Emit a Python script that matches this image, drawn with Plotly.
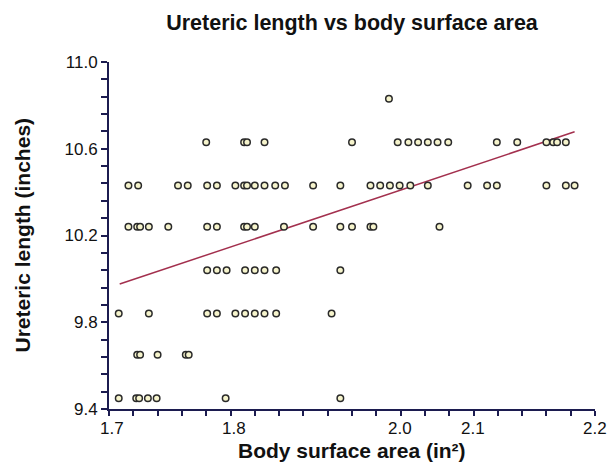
import plotly.graph_objects as go

# ---- data ----
# ureteric length levels (inches) and the body surface areas of the points at each level
length_levels = [10.83, 10.63, 10.43, 10.24, 10.04, 9.84, 9.65, 9.45]
bsa_at_10_83 = [1.988]
bsa_at_10_63 = [1.800, 1.839, 1.842, 1.860, 1.950, 1.997, 2.008, 2.018, 2.028, 2.038,
                2.049, 2.099, 2.120, 2.150, 2.157, 2.161, 2.170]
bsa_at_10_43 = [1.720, 1.730, 1.771, 1.781, 1.801, 1.811, 1.830, 1.839, 1.842, 1.850,
                1.860, 1.871, 1.881, 1.910, 1.938, 1.969, 1.979, 1.989, 1.999, 2.010,
                2.028, 2.069, 2.089, 2.099, 2.150, 2.170, 2.179]
bsa_at_10_24 = [1.720, 1.729, 1.732, 1.741, 1.761, 1.801, 1.811, 1.839, 1.842, 1.850,
                1.880, 1.910, 1.938, 1.950, 1.969, 1.972, 2.040]
bsa_at_10_04 = [1.801, 1.811, 1.821, 1.840, 1.850, 1.860, 1.872, 1.938]
bsa_at_9_84 = [1.710, 1.741, 1.801, 1.811, 1.830, 1.840, 1.850, 1.860, 1.872, 1.929]
bsa_at_9_65 = [1.729, 1.732, 1.750, 1.779, 1.782]
bsa_at_9_45 = [1.710, 1.728, 1.731, 1.740, 1.749, 1.820, 1.938]

# fitted trend line end points
trend_bsa = [1.711, 2.179]
trend_length = [9.976, 10.678]

# axis tick labels as drawn in the reference
x_tick_text = ["1.7", "1.8", "2.0", "2.1", "2.2"]
x_tick_label_pos = [1.703, 1.8286, 1.9994, 2.074, 2.1995]
y_tick_vals = [9.4, 9.8, 10.2, 10.6, 11.0]
y_tick_text = ["9.4", "9.8", "10.2", "10.6", "11.0"]

groups = [bsa_at_10_83, bsa_at_10_63, bsa_at_10_43, bsa_at_10_24,
          bsa_at_10_04, bsa_at_9_84, bsa_at_9_65, bsa_at_9_45]
xs, ys = [], []
for lvl, g in zip(length_levels, groups):
    xs.extend(g)
    ys.extend([lvl] * len(g))

FONT = "Arial, 'Liberation Sans', sans-serif"
AXIS_COL = "#1c1c50"

fig = go.Figure()
fig.add_trace(go.Scatter(
    x=trend_bsa, y=trend_length, mode="lines",
    line=dict(color="#a3304e", width=1.5), hoverinfo="skip", showlegend=False))
fig.add_trace(go.Scatter(
    x=xs, y=ys, mode="markers",
    marker=dict(symbol="circle", size=6.5, color="#f6f4cc",
                line=dict(color="#2a2a2a", width=1.5)),
    showlegend=False, cliponaxis=False))

annotations = []
for t, p in zip(x_tick_text, x_tick_label_pos):
    annotations.append(dict(x=p, y=0, xref="x", yref="paper", text=t, showarrow=False,
                            yanchor="top", xanchor="center", yshift=-8,
                            font=dict(family=FONT, size=17, color="#111")))
annotations.append(dict(x=0.5, y=0, xref="paper", yref="paper",
                        text="<b>Body surface area (in²)</b>", showarrow=False,
                        yanchor="middle", xanchor="center", yshift=-41,
                        font=dict(family=FONT, size=21, color="#111")))
annotations.append(dict(x=0, y=0.5, xref="paper", yref="paper",
                        text="<b>Ureteric length (inches)</b>", showarrow=False,
                        textangle=-90, xanchor="center", yanchor="middle", xshift=-87,
                        font=dict(family=FONT, size=21, color="#111")))

fig.update_layout(
    width=607, height=468,
    margin=dict(l=109, r=12, t=62, b=59),
    paper_bgcolor="white", plot_bgcolor="white",
    title=dict(text="<b>Ureteric length vs body surface area</b>",
               x=0.5, xref="paper", y=1 - 22 / 468, yref="container",
               xanchor="center", yanchor="middle",
               font=dict(family=FONT, size=21.5, color="#111")),
    annotations=annotations,
    xaxis=dict(range=[1.7, 2.2], showgrid=False, zeroline=False,
               showline=True, linecolor=AXIS_COL, linewidth=2,
               tickmode="linear", tick0=1.7, dtick=0.025,
               ticks="outside", ticklen=5, tickwidth=2, tickcolor=AXIS_COL,
               showticklabels=False),
    yaxis=dict(range=[9.4, 11.0], showgrid=False, zeroline=False,
               showline=True, linecolor=AXIS_COL, linewidth=2,
               tickmode="array", tickvals=y_tick_vals, ticktext=y_tick_text,
               ticks="outside", ticklen=6, tickwidth=2, tickcolor=AXIS_COL,
               tickfont=dict(family=FONT, size=17, color="#111"),
               minor=dict(dtick=0.08, tick0=9.4, ticks="outside", ticklen=6,
                          tickwidth=2, tickcolor=AXIS_COL)),
)

fig.write_html("out.html",
               config={"displayModeBar": False},
               post_script="document.body.style.margin='0';"
                           "document.body.style.overflow='hidden';")
